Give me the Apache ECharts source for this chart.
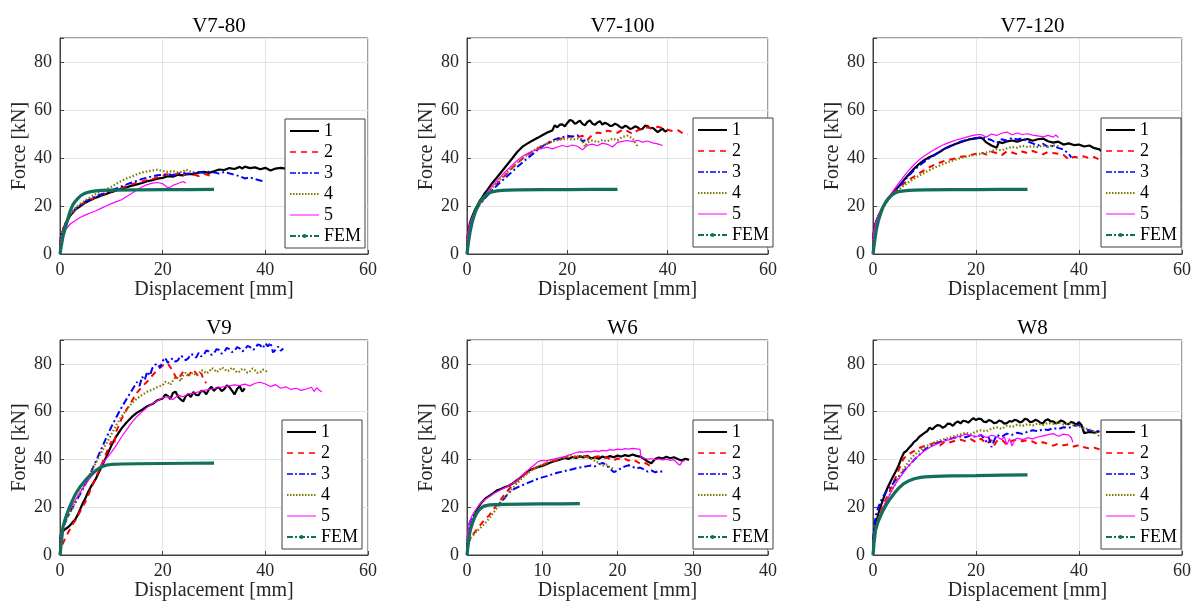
<!DOCTYPE html>
<html><head><meta charset="utf-8">
<script src="https://cdn.jsdelivr.net/npm/echarts@6/dist/echarts.min.js"></script>
<style>html,body{margin:0;padding:0;background:#fff}#c{width:1200px;height:606px}</style>
</head><body><div id="c"></div>
<script>
// ---------- chart data ----------
const titles = ['V7-80', 'V7-100', 'V7-120', 'V9', 'W6', 'W8'];
const seriesNames = ['1', '2', '3', '4', '5', 'FEM'];
const xMaxes = [60, 60, 60, 60, 40, 60];
const xTickSteps = [20, 20, 20, 20, 10, 20];
const yTicks = [0, 20, 40, 60, 80];
const yMax = 90;

// V7-80
const v780_1 = [[0,0],[0.1,6],[0.3,8],[0.6,10],[1,12],[1.5,14],[2,16],[3,18.5],[4,20],[5,21.5],[6,22.5],[7,23.5],[8,24.3],[9,25],[10,25.8],[11,26.5],[12,27.2],[13,27.8],[14,28.5],[15,29],[16,29.6],[17,30.3],[18,30.8],[19,31.4],[20,31.7],[21,32.4],[22,32.2],[23,33],[24,32.8],[25,33.4],[26,33.2],[27,33.9],[28,34.2],[29,33.8],[30,34.5],[31,35.2],[32,35],[33,35.8],[34,35.4],[35,36.3],[35.5,35.6],[36,36.4],[37,35.8],[38,36.1],[39,35.3],[40,35.9],[41,34.8],[42,35.6],[43,35.9],[44,35.6],[44.5,35.7]];
const v780_2 = [[0,0],[0.1,6],[0.3,8],[0.6,10],[1,12.5],[1.5,14.5],[2,16],[3,18.5],[4,20.5],[5,21.8],[6,22.8],[7,23.7],[8,24.6],[9,25.4],[10,26],[11,26.8],[12,27.6],[13,28.3],[14,29],[15,29.8],[16,30.2],[17,30.9],[18,31.2],[19,32],[20,32.6],[21,33.2],[21.5,32.4],[22,33],[23,33.5],[24,32.8],[25,33.6],[26,33.1],[27,32.5],[28,33.4],[29,32.8],[30,32.2]];
const v780_3 = [[0,0],[0.1,6],[0.3,8.5],[0.6,10.5],[1,12.5],[1.5,14.5],[2,16.2],[3,18.8],[4,20.5],[5,22],[6,23],[7,24],[8,24.8],[9,25.5],[10,26.4],[11,27.3],[12,28.2],[13,29],[14,29.8],[15,30.5],[16,31.3],[17,31.8],[18,32.4],[19,32.8],[20,33],[21,33.4],[22,32.7],[23,33.5],[24,33.8],[25,33.2],[26,33.9],[27,34.2],[28,33.8],[29,34.3],[30,34],[31,33.5],[32,34.2],[33,33.6],[34,33],[35,32.4],[36,31.5],[37,31.9],[38,31.2],[39,30.6],[40,30.2]];
const v780_4 = [[0,0],[0.1,6],[0.3,8.5],[0.6,10.5],[1,12.5],[1.5,14.5],[2,16.5],[3,19],[4,21],[5,22.5],[6,23.8],[7,25],[8,26],[9,27],[10,28],[11,29.3],[12,30.5],[13,31.5],[14,32.3],[15,33.2],[16,34],[17,34.4],[18,34.8],[19,35.1],[20,34.6],[21,34.2],[22,34.5],[23,34],[24,34.3],[24.5,35.2],[25,34.6],[26,34]];
const v780_5 = [[0,0],[0.1,5],[0.3,7],[0.6,8.8],[1,10],[2,12.5],[3,14],[4,15.3],[5,16.3],[6,17.2],[7,18],[8,19],[9,20],[10,21],[11,21.8],[12,22.6],[13,24],[14,25.3],[15,26.8],[16,28],[17,28.9],[18,29.5],[19,29.8],[20,29.3],[21,27.6],[21.5,27.8],[22,28.6],[23,29.4],[24,30.2],[24.5,29.5]];
const v780_fem = [[0,0],[0.3,4],[0.6,7.5],[1,10.5],[1.5,14.5],[2,18],[2.5,20.5],[3,22],[3.5,23.2],[4,24.2],[4.5,24.9],[5,25.4],[6,26],[7,26.3],[8,26.5],[10,26.6],[15,26.7],[20,26.8],[25,26.8],[30,26.9]];

// V7-100
const v7100_1 = [[0,0],[0.1,7],[0.3,10],[0.6,13],[1,15.5],[1.5,18],[2,20],[2.5,22],[3,23.5],[3.5,25.2],[4,26.5],[5,29.5],[6,32],[7,34.6],[8,37.2],[9,39.8],[10,42.5],[11,44.6],[12,46],[13,47.2],[14,48.3],[15,49.5],[16,50.6],[17,51.5],[17.5,53.6],[18,52.8],[18.5,53.9],[19,54],[19.5,53.2],[20,54.6],[20.5,55.8],[21,55.5],[21.5,54.2],[22,54.8],[22.5,55.6],[23,54.2],[23.5,53.6],[24,55],[24.5,55.7],[25,54.3],[25.5,53.8],[26,54.8],[26.5,55.3],[27,53.9],[27.5,54.7],[28,54.2],[28.5,53.4],[29,53.5],[29.5,54.3],[30,53.8],[30.5,52.9],[31,52.5],[31.5,53.4],[32,53],[32.5,52.1],[33,52.4],[33.5,53.2],[34,52.8],[34.5,51.9],[35,52.2],[35.5,53.5],[36,53.3],[36.5,52.4],[37,52.6],[37.5,51.7],[38,50.8],[38.5,51.5],[39,52.2],[39.5,51],[40,51.6]];
const v7100_2 = [[0,0],[0.1,6],[0.3,9],[0.6,12],[1,14.5],[1.5,17],[2,19],[3,22],[4,24.5],[5,27],[6,29.3],[7,31.5],[8,33.6],[9,35.8],[10,37.8],[11,39.6],[12,41.2],[13,42.6],[14,43.9],[15,45],[16,46],[17,46.9],[18,47.6],[19,48.2],[20,48.7],[21,49],[22,48.6],[23,49.3],[24,47.5],[25,49.8],[26,50.6],[27,50.2],[28,51.4],[29,51],[30,50.5],[31,51.8],[32,51.2],[33,50],[34,51.5],[35,52.3],[36,52.8],[37,52.1],[38,53],[39,52.4],[40,51.8],[41,51.2],[42,51.6],[43,50.3],[44,49.8]];
const v7100_3 = [[0,0],[0.1,6],[0.3,9],[0.6,12],[1,14.5],[1.5,17],[2,19],[3,21.8],[4,24.2],[5,26.5],[6,28.6],[7,30.5],[8,32.4],[9,34.3],[10,36.2],[11,38],[12,39.8],[13,41.5],[14,43.2],[15,44.8],[16,46.2],[17,47.3],[18,48.1],[19,48.6],[20,49.3],[21,48.9],[22,49.5],[22.5,48.5],[23,47],[23.3,46.2],[23.6,47.4]];
const v7100_4 = [[0,0],[0.1,6],[0.3,9],[0.6,12],[1,14.5],[1.5,17],[2,19.2],[3,22.3],[4,25],[5,27.4],[6,29.7],[7,31.9],[8,34],[9,36],[10,37.9],[11,39.7],[12,41.3],[13,42.8],[14,44.1],[15,45.2],[16,46.1],[17,46.9],[18,47.4],[19,47.8],[20,48.2],[21,47.6],[22,48.1],[23,47.2],[23.5,44.8],[24,46.5],[25,47.3],[26,46.6],[27,47.5],[28,47],[29,48.1],[30,47.4],[31,48.8],[32,49.3],[33,48.2],[33.5,46.5],[34,44.8]];
const v7100_5 = [[0,0],[0.1,7],[0.3,10],[0.6,12.5],[1,15],[1.5,17.5],[2,19.5],[3,22.8],[4,25.6],[5,28.2],[6,30.6],[7,32.9],[8,35],[9,37],[10,39],[11,40.6],[12,41.9],[13,42.8],[14,43.5],[15,44],[16,44.5],[17,43.8],[18,44.6],[19,45.2],[20,44.7],[21,45.4],[22,44.9],[23,43.4],[24,45.3],[25,45.8],[26,45.1],[27,46.2],[28,45.7],[29,44.6],[30,46.5],[31,46.9],[32,47.3],[33,46.8],[34,47.4],[35,46.6],[36,47.1],[37,46.3],[38,45.9],[39,45.2]];
const v7100_fem = [[0,0],[0.3,5],[0.6,9],[1,13],[1.5,16.5],[2,19.3],[2.5,21.3],[3,22.8],[3.5,24],[4,24.9],[4.5,25.5],[5,25.9],[6,26.3],[7,26.5],[8,26.6],[10,26.7],[15,26.8],[20,26.8],[25,26.9],[30,26.9]];

// V7-120
const v7120_1 = [[0,0],[0.1,8],[0.3,11],[0.6,13.5],[1,15.5],[1.5,17.8],[2,19.8],[3,23],[4,25.8],[5,28.2],[6,30.8],[7,33.2],[8,35.6],[9,37.6],[10,39.2],[11,40.4],[12,41.3],[13,42.6],[14,44],[15,44.9],[16,45.8],[17,46.6],[18,47.3],[19,47.9],[20,48.2],[21,48.5],[21.5,47.6],[22,46.5],[23,45.2],[24,44.3],[24.5,46.8],[25,46.2],[26,46.9],[27,47.3],[28,46.8],[29,47.5],[30,47.9],[31,47.2],[32,47.8],[33,48.1],[34,47],[35,46.4],[36,46.8],[37,45.6],[38,46.1],[39,45.4],[40,45.6],[41,44.8],[42,45.2],[43,44.1],[44,43.6],[44.3,42.8]];
const v7120_2 = [[0,0],[0.1,7],[0.3,10],[0.6,13],[1,15.5],[1.5,18],[2,20],[3,23],[4,25.5],[5,27.5],[6,29.4],[7,30.9],[8,32.3],[9,33.7],[10,35],[11,36.2],[12,37.3],[13,38.1],[14,38.9],[15,39.4],[16,39.8],[17,40.5],[18,40.7],[19,41.3],[20,41.8],[21,42.3],[22,41.4],[23,42.6],[24,42.1],[25,41.2],[26,42.8],[27,42.3],[28,41.6],[29,42.7],[30,42],[31,42.9],[32,42.2],[33,41.5],[34,42.6],[35,42.1],[36,41.8],[37,41.3],[38,39.4],[39,40.5],[40,40.1],[41,40.7],[42,39.9],[43,40.4],[44,39.2]];
const v7120_3 = [[0,0],[0.1,8],[0.3,11],[0.6,13.5],[1,15.5],[1.5,17.8],[2,19.8],[3,22.8],[4,25.5],[5,28],[6,30.4],[7,32.8],[8,35],[9,36.9],[10,38.5],[11,40],[12,41.4],[13,42.7],[14,43.9],[15,45],[16,45.9],[17,46.8],[18,47.5],[19,48],[20,48.3],[21,48.6],[22,48.1],[23,47.5],[24,46.2],[25,47.8],[26,47.2],[27,48.4],[28,47.7],[29,48.2],[30,46.9],[31,46.1],[32,45.2],[33,45.9],[34,44.6],[35,45],[36,44.2],[37,43.5],[38,41.8],[38.5,40.2]];
const v7120_4 = [[0,0],[0.1,7],[0.3,10],[0.6,13],[1,15.5],[1.5,18],[2,20],[3,22.8],[4,25],[5,26.9],[6,28.5],[7,30],[8,31.4],[9,32.7],[10,33.9],[11,35],[12,36],[13,36.9],[14,37.8],[15,38.6],[16,39.3],[17,40],[18,40.5],[19,41],[20,41.4],[21,41.8],[22,42.3],[23,42.9],[24,43.6],[25,43.2],[26,44],[27,44.6],[28,44.3],[29,45.1],[30,44.6],[31,44.9],[32,44.5],[33,45.2],[34,44.8],[35,45.3],[36,44.9]];
const v7120_5 = [[0,0],[0.1,8],[0.3,11],[0.6,13.5],[1,15.8],[1.5,18.2],[2,20.3],[3,23.6],[4,26.6],[5,29.5],[6,32.3],[7,35],[8,37.3],[9,39.3],[10,40.9],[11,42.3],[12,43.6],[13,44.8],[14,45.8],[15,46.6],[16,47.4],[17,48],[18,48.6],[19,49.2],[20,49.6],[21,49.8],[22,48.7],[23,50],[24,49.4],[25,50.3],[26,50.8],[27,49.7],[28,50.4],[29,49.8],[30,50.1],[31,49.5],[32,49.2],[33,48.8],[34,49.4],[35,48.7],[35.5,49.6],[36,48.5]];
const v7120_fem = [[0,0],[0.3,5],[0.6,9.5],[1,13.5],[1.5,17],[2,19.8],[2.5,21.8],[3,23.2],[3.5,24.3],[4,25.1],[4.5,25.6],[5,26],[6,26.3],[7,26.5],[8,26.6],[10,26.7],[15,26.8],[20,26.8],[25,26.9],[30,26.9]];

// V9
const v9_1 = [[0,0],[0.1,8],[0.3,9.5],[0.6,10.2],[1,10.8],[1.5,11.5],[2,12.5],[2.5,13.8],[3,15],[3.5,17],[4,19.5],[4.5,22],[5,24],[5.5,26.5],[6,28.5],[7,32],[8,36.5],[9,41],[10,45.8],[11,49.8],[12,53],[13,55.6],[14,57.8],[15,59.6],[16,60.8],[17,62.3],[18,63.2],[19,64.8],[20,65.5],[20.5,67.2],[21,66.6],[21.5,65.3],[22,67.8],[22.5,68.4],[23,66.2],[23.5,65.1],[24,64.3],[24.5,66.5],[25,67.4],[25.5,66.1],[26,68.2],[26.5,67],[27,66.9],[27.5,68.7],[28,68.6],[28.5,67.3],[29,69.3],[29.5,70.4],[30,68.7],[30.5,69.9],[31,70.1],[31.5,68.6],[32,69.4],[32.5,71],[33,70.3],[33.5,68.8],[34,67.2],[34.5,69.5],[35,70.6],[35.5,68.4],[36,69.8]];
const v9_2 = [[0,0],[0.3,3],[0.6,5],[1,7],[1.5,9],[2,11],[2.5,13],[3,14.5],[3.5,16.5],[4,18.5],[5,22.5],[6,27.5],[7,32.5],[8,37.5],[9,42.5],[10,47.5],[10.5,46],[11,52],[12,57],[13,61],[14,64.5],[15,68],[16,70.5],[17,72.6],[18,75.2],[19,77.5],[20,79.3],[21,80.2],[21.5,78.5],[22,77.2],[22.5,74.6],[23,73.4],[24,76.8],[25,75.2],[26,77.6],[27,74.5],[27.5,76.2],[28,73.1],[28.5,72]];
const v9_3 = [[0,0],[0.1,7],[0.3,9],[0.6,11],[1,13.5],[1.5,16],[2,18.2],[3,22],[4,25.8],[5,29.8],[6,34.5],[7,39.3],[8,44.2],[9,49],[10,53.6],[11,57.8],[12,61.8],[13,65.4],[14,68.9],[15,72.4],[15.5,70.8],[16,74.6],[16.5,73.2],[17,76.8],[17.5,75.1],[18,78.2],[18.5,79.6],[19,80.1],[19.5,78.4],[20,81.2],[20.5,82.6],[21,80.4],[21.5,81.8],[22,82.3],[22.5,80.9],[23,81.6],[23.5,83.4],[24,82.9],[24.5,81.5],[25,82.4],[25.5,84.1],[26,83.8],[26.5,82.6],[27,84.6],[27.5,83.1],[28,83.7],[28.5,85.6],[29,85.2],[29.5,83.8],[30,84.5],[30.5,86.2],[31,85.8],[31.5,84.3],[32,85.1],[32.5,86.7],[33,86.2],[33.5,84.9],[34,85.4],[34.5,87],[35,86.5],[35.5,85.2],[36,85.9],[36.5,87.5],[37,87.1],[37.5,85.8],[38,86.4],[38.5,88.1],[39,87.8],[39.5,86.5],[40,88.6],[40.5,87.3],[41,88.9],[41.5,84.8],[42,85.9],[42.5,87.2],[43,85.5],[43.5,86.4]];
const v9_4 = [[0,0],[0.1,7],[0.3,10],[0.6,12],[1,14],[1.5,16],[2,17.8],[2.5,19.8],[3,22],[3.5,24.5],[4,26.5],[5,30.5],[6,34.5],[7,38.7],[8,42.7],[9,46.5],[10,50.5],[11,54.5],[12,58],[13,61],[14,63.5],[15,65.5],[16,67],[17,68.4],[18,69.2],[19,70.3],[20,71.1],[20.5,72.5],[21,72.3],[21.5,71.2],[22,73],[22.5,74.4],[23,74],[23.5,72.8],[24,75.2],[24.5,76.3],[25,74.6],[25.5,75.9],[26,76.3],[26.5,75.1],[27,75.8],[27.5,77.4],[28,77.1],[28.5,76],[29,76.6],[29.5,78.2],[30,77.8],[30.5,76.5],[31,77.2],[31.5,78.5],[32,78],[32.5,76.9],[33,77.3],[33.5,78.4],[34,77.6],[34.5,76.4],[35,76.8],[35.5,78],[36,77.5],[36.5,76.3],[37,76.9],[37.5,78.1],[38,77.3],[38.5,76.2],[39,76.4],[39.5,77.6],[40,77.2],[40.5,76.5]];
const v9_5 = [[0,0],[0.1,7],[0.3,10],[0.6,12.5],[1,15],[1.5,17.5],[2,19.5],[3,23],[4,26.5],[5,29.8],[6,32.5],[7,35],[8,37.5],[9,40.2],[10,43],[11,46],[12,49.5],[13,52.5],[14,55.5],[15,58],[16,60],[17,61.8],[18,63.4],[19,64.6],[20,65.8],[21,66.3],[22,65.1],[23,66.9],[24,66.2],[25,67.5],[26,67.8],[27,68.3],[28,68.9],[29,69.2],[30,69.7],[31,70],[32,70.5],[33,70.8],[34,71.2],[35,70.9],[36,71.5],[37,70.8],[38,71.9],[39,72.3],[40,71.6],[41,70.5],[42,71.3],[43,69.8],[44,70.4],[45,69.3],[46,69.8],[47,68.9],[48,69.5],[49,70.2],[49.5,68.5],[50,70],[50.5,69],[51,68.3]];
const v9_fem = [[0,0],[0.3,6],[0.6,12],[1,15],[1.5,18],[2,20.8],[2.5,23.2],[3,25.4],[3.5,27.2],[4,28.8],[5,31.4],[6,33.6],[7,35.4],[8,36.8],[9,37.6],[10,37.9],[12,38.1],[15,38.2],[20,38.3],[25,38.4],[30,38.5]];

// W6
const w6_1 = [[0,0],[0.1,6],[0.3,9.5],[0.5,12],[0.8,14.5],[1,16.5],[1.3,18.8],[1.6,20.5],[2,22.2],[2.5,23.8],[3,24.8],[3.5,25.9],[4,27.1],[4.5,27.6],[5,28.4],[5.5,28.9],[6,29.8],[6.5,31],[7,32.2],[7.5,33.6],[8,34.9],[8.5,35.8],[9,36.3],[9.5,36.9],[10,37.3],[10.5,37.9],[11,38.6],[11.5,39.2],[12,39.6],[12.5,40.1],[13,40.6],[13.5,40.2],[14,41],[14.5,40.6],[15,41.3],[15.5,40.8],[16,41.5],[16.5,40.4],[17,40.9],[17.5,40.3],[18,41.2],[18.5,40.7],[19,41.4],[19.5,40.9],[20,41.6],[20.5,41.2],[21,41.8],[21.5,41.4],[22,42.1],[22.5,41.5],[23,41.2],[23.5,40.3],[24,39.1],[24.5,38.4],[25,40.2],[25.5,40.8],[26,40.4],[26.5,41.1],[27,40.5],[27.5,40.9],[28,40.2],[28.5,39.6],[29,40.3],[29.5,39.8]];
const w6_2 = [[0,0],[0.1,4],[0.3,6],[0.6,7.5],[1,9.5],[1.5,11.5],[2,13.5],[2.5,15.2],[3,16.8],[3.5,19],[4,21.2],[4.5,23.2],[5,25.5],[5.5,27.3],[6,29],[6.5,30.6],[7,32],[7.5,33.3],[8,34.5],[8.5,35.4],[9,36.4],[9.5,37.1],[10,37.6],[10.5,38.3],[11,38.9],[11.5,39.4],[12,39.8],[12.5,40.5],[13,40.9],[13.5,41.3],[14,40.8],[14.5,41.2],[15,40.6],[15.5,41.4],[16,41.1],[16.5,41.6],[17,41],[17.5,41.3],[18,40.5],[18.5,41],[19,40.1],[19.5,39.6],[20,40.4],[20.5,39.8],[21,40.2],[21.5,39.5],[22,40.1],[22.5,39.2],[23,38.3],[23.5,38.8],[24,37.9],[24.5,37.1]];
const w6_3 = [[0,0],[0.1,8],[0.3,13],[0.6,15.5],[1,17],[1.5,18.8],[2,19.8],[2.5,20.4],[3,20.8],[3.5,21.1],[4,21.5],[4.5,22],[5,23.8],[5.5,26],[6,27.2],[6.5,28],[7,28.8],[7.5,29.4],[8,30.1],[8.5,30.7],[9,31.4],[9.5,32],[10,32.5],[10.5,32.9],[11,33.5],[11.5,33.9],[12,34.4],[12.5,34.8],[13,35.2],[13.5,35.5],[14,35.9],[14.5,36.3],[15,36.6],[15.5,36.9],[16,37.2],[16.5,37.5],[17,37.1],[17.5,37.9],[18,38.6],[18.5,37.8],[19,36.1],[19.5,34.7],[20,35.3],[20.5,36.4],[21,37.1],[21.5,37.6],[22,36.9],[22.5,36.2],[23,36.6],[23.5,35.8],[24,34.9],[24.5,35.4],[25,34.6],[25.5,35.2],[26,34.8]];
const w6_4 = [[0,0],[0.1,4],[0.3,6],[0.6,7.5],[1,9],[1.5,10.5],[2,12],[2.5,13.6],[3,15.5],[3.5,17.6],[4,19.8],[4.5,22],[5,24],[5.5,25.9],[6,27.7],[6.5,29.5],[7,31.2],[7.5,32.7],[8,34],[8.5,35.2],[9,36.3],[9.5,37.1],[10,37.8],[10.5,38.6],[11,39.2],[11.5,39.7],[12,40.2],[12.5,40.5],[13,40.9],[13.5,41.2],[14,41.5],[14.5,41.1],[15,41.6],[15.5,41.2],[16,40.8],[16.5,40.2],[17,39.4],[17.5,38.5],[18,37.3],[18.5,37.9],[19,36.6],[19.5,36.2]];
const w6_5 = [[0,0],[0.1,9],[0.3,13],[0.6,16],[1,18.2],[1.5,20.4],[2,22.3],[2.5,23.4],[3,24.6],[3.5,25.6],[4,26.5],[4.5,27.3],[5,28.1],[5.5,28.9],[6,29.8],[6.5,30.9],[7,32.4],[7.5,33.9],[8,35.2],[8.5,36.6],[9,37.9],[9.5,39.2],[10,39.6],[10.5,39.4],[11,39.8],[11.5,40.1],[12,40.5],[12.5,40.9],[13,41.2],[13.5,41.8],[14,42.3],[14.5,42.9],[15,43.2],[15.5,43.1],[16,43.4],[16.5,43.2],[17,43.6],[17.5,43.3],[18,43.8],[18.5,43.6],[19,44.1],[19.5,43.9],[20,44.3],[20.5,44.1],[21,44.5],[21.5,44.3],[22,44.6],[22.5,44.4],[23,44.2],[23.1,40.8],[23.5,40.5],[24,40.1],[24.5,40.3],[25,39.9],[25.5,40.2],[26,39.8],[26.5,40.1],[27,39.6],[27.5,39.9],[28,38.2],[28.3,37.6],[28.6,39.2],[29,39.5]];
const w6_fem = [[0,0],[0.1,3],[0.2,5.5],[0.35,9],[0.5,11],[0.75,13.5],[1,15.6],[1.25,17.2],[1.5,18.4],[1.75,19.3],[2,20],[2.25,20.5],[2.5,20.8],[3,21],[4,21.1],[5,21.2],[7.5,21.3],[10,21.4],[12.5,21.4],[15,21.5]];

// W8
const w8_1 = [[0,0],[0.1,7],[0.3,10],[0.6,13.5],[1,17],[1.5,20.5],[2,23.5],[2.5,26.5],[3,29],[3.5,31.2],[4,33.3],[4.5,35.4],[5,37.6],[5.5,40.5],[6,42.8],[6.5,43.6],[7,44.9],[7.5,46],[8,47.4],[8.5,48.2],[9,49.5],[9.5,50.3],[10,51.1],[10.5,51.8],[11,53.3],[11.5,52.6],[12,53.6],[12.5,54.4],[13,54.2],[13.5,53.3],[14,53.8],[14.5,55],[15,54.9],[15.5,54.1],[16,55.3],[16.5,55.9],[17,55.1],[17.5,56.2],[18,56],[18.5,55.4],[19,56.4],[19.5,57.3],[20,56.5],[20.5,57.1],[21,56.9],[21.5,55.8],[22,55.6],[22.5,56.5],[23,56.1],[23.5,55.2],[24,55.4],[24.5,56.3],[25,55.9],[25.5,55],[26,55.2],[26.5,56.1],[27,55.8],[27.5,56.6],[28,56.3],[28.5,55.5],[29,55.9],[29.5,57],[30,56.7],[30.5,55.6],[31,55.8],[31.5,56.6],[32,56.2],[32.5,55.3],[33,55.1],[33.5,56.4],[34,56.8],[34.5,55.9],[35,56],[35.5,55.1],[36,55.5],[36.5,56.3],[37,55.9],[37.5,54.9],[38,54.8],[38.5,55.7],[39,55.3],[39.5,54.6],[40,55.6],[40.5,54.3],[41,51],[42,51.5],[43,51.2],[44,51.8]];
const w8_2 = [[0,0],[0.1,6],[0.3,9],[0.6,12],[1,15],[1.5,18.2],[2,21],[2.5,23.3],[3,25.6],[3.5,28],[4,30.5],[4.5,33],[5,35.6],[5.5,38.5],[6,40.5],[6.5,41.4],[7,42.3],[8,43.6],[9,44.8],[10,45.7],[11,46.3],[12,46.9],[13,45.8],[14,47.5],[15,47.2],[16,47.9],[17,48.3],[18,47.6],[19,48.5],[20,47.2],[21,48.7],[22,46.5],[23,48.1],[23.5,45.8],[24,47.6],[25,48.3],[26,46.2],[27,47.8],[28,48.4],[29,47.6],[30,48.1],[31,47.5],[32,46.4],[33,47.2],[34,46.5],[35,45.8],[36,46.6],[37,45.9],[38,46.3],[39,45.4],[40,46],[41,45.1],[42,44.6],[43,44.9],[44,44.2]];
const w8_3 = [[0,0],[0.1,9],[0.3,13],[0.6,17],[1,19.8],[1.5,22.5],[2,24.6],[2.5,26.3],[3,27.7],[3.5,29],[4,30.3],[4.5,31.6],[5,32.8],[5.5,34],[6,35.2],[6.5,36.4],[7,37.5],[8,39.8],[9,42],[10,44],[11,45.4],[12,46.5],[13,47.3],[14,48.1],[15,48.6],[16,49.2],[17,49.6],[18,49.3],[19,50.1],[20,49.4],[21,50.3],[22,47.5],[22.5,49.2],[23,45.2],[23.5,47.8],[24,50.2],[25,49.6],[26,50.8],[27,50.3],[28,51.2],[29,50.7],[30,51.6],[31,52.2],[32,51.8],[33,52.6],[34,52.3],[35,53.1],[36,52.7],[37,53.5],[38,53.2],[39,54.1],[40,54.4],[41,52.8],[42,52.2],[43,51.6],[44,52]];
const w8_4 = [[0,0],[0.1,6],[0.3,9],[0.6,12],[1,14.8],[1.5,17.6],[2,20],[2.5,22],[3,24.2],[3.5,26.4],[4,28.6],[4.5,30.8],[5,32.6],[5.5,34.4],[6,36.1],[6.5,37.8],[7,39.4],[8,41.8],[9,43.6],[10,45.1],[11,46.3],[12,47.2],[13,48],[14,48.6],[15,49.3],[16,49.9],[17,50.5],[18,51.2],[19,50.6],[20,51.7],[21,52.2],[22,51.8],[23,52.9],[24,53.4],[25,52.8],[26,54.1],[27,53.6],[28,54.5],[29,54],[30,54.8],[31,54.2],[32,55],[33,54.4],[34,55.3],[35,54.9],[36,55.6],[37,54.7],[38,55.1],[39,54.2],[40,53.8],[41,53.1],[42,52.5],[43,51.7],[44,49.6]];
const w8_5 = [[0,0],[0.1,6],[0.3,9],[0.6,12],[1,14.8],[1.5,17.7],[2,20.2],[2.5,22.2],[3,24.3],[3.5,26.4],[4,28.4],[4.5,30.2],[5,31.8],[5.5,33.2],[6,34.7],[6.5,36.2],[7,37.5],[8,39.8],[9,41.9],[10,43.6],[11,45],[12,46.1],[13,47],[14,47.8],[15,48.4],[16,49.2],[17,49.8],[18,50.6],[19,50.1],[20,49.5],[21,50.3],[22,49.2],[23,50.1],[24,49.6],[25,48.3],[25.5,49.5],[26,46.2],[26.5,48.7],[27,45.6],[27.5,48.2],[28,48.9],[29,48.3],[30,49.1],[31,48.6],[32,49.4],[33,49.9],[34,50.4],[35,50.8],[36,49.7],[37,50.6],[38,50.2],[38.5,49.2],[38.8,47.2]];
const w8_fem = [[0,0],[0.2,5],[0.5,10.5],[1,14],[1.5,16.5],[2,18.8],[2.5,20.7],[3,22.5],[3.5,24],[4,25.4],[4.5,26.8],[5,28],[5.5,29],[6,29.9],[7,31.1],[8,31.9],[9,32.4],[10,32.7],[12,32.9],[15,33.1],[20,33.2],[25,33.4],[30,33.5]];

const panelData = [
  [v780_1, v780_2, v780_3, v780_4, v780_5, v780_fem],
  [v7100_1, v7100_2, v7100_3, v7100_4, v7100_5, v7100_fem],
  [v7120_1, v7120_2, v7120_3, v7120_4, v7120_5, v7120_fem],
  [v9_1, v9_2, v9_3, v9_4, v9_5, v9_fem],
  [w6_1, w6_2, w6_3, w6_4, w6_5, w6_fem],
  [w8_1, w8_2, w8_3, w8_4, w8_5, w8_fem]
];

// ---------- layout & style ----------
const FONT = 'Liberation Serif';
const gridBoxes = [
  {left: 60, top: 38, width: 308, height: 216},
  {left: 467, top: 38, width: 301, height: 216},
  {left: 873, top: 38, width: 309, height: 216},
  {left: 60, top: 340, width: 308, height: 215},
  {left: 467, top: 340, width: 301, height: 215},
  {left: 873, top: 340, width: 309, height: 215}
];
const legendPos = [
  {left: 285, top: 119}, {left: 693, top: 118}, {left: 1101, top: 118},
  {left: 282, top: 420}, {left: 693, top: 420}, {left: 1101, top: 420}
];
const lineStyles = [
  {color: '#000000', width: 2.2, type: 'solid'},
  {color: '#ff0000', width: 2, type: [6, 5]},
  {color: '#0000ff', width: 2, type: [7, 3, 2, 3]},
  {color: '#807a00', width: 2.2, type: [1.5, 2]},
  {color: '#ff00ff', width: 1.2, type: 'solid'},
  {color: '#11705b', width: 3.2, type: 'solid'}
];
const legendLineStyles = [
  {color: '#000000', width: 2, type: 'solid'},
  {color: '#ff0000', width: 1.6, type: [6, 5]},
  {color: '#0000ff', width: 1.6, type: [6, 2, 2, 2]},
  {color: '#807a00', width: 1.8, type: [1.5, 1.5]},
  {color: '#ff00ff', width: 1, type: 'solid'},
  {color: '#11705b', width: 2, type: [6, 2, 2, 2]}
];
const AX = '#404040';

const grids = [], xAxes = [], yAxes = [], series = [], titleArr = [], legends = [];
gridBoxes.forEach((g, i) => {
  grids.push(Object.assign({show: true, borderColor: AX, borderWidth: 1, backgroundColor: '#fff', containLabel: false}, g));
  titleArr.push({
    text: titles[i], left: g.left + g.width / 2, top: g.top - 27, textAlign: 'center',
    textStyle: {fontFamily: FONT, fontSize: 21, fontWeight: 'normal', color: '#000'}
  });
  xAxes.push({
    type: 'value', gridIndex: i, min: 0, max: xMaxes[i], interval: xTickSteps[i],
    name: 'Displacement [mm]', nameLocation: 'middle', nameGap: 25,
    nameTextStyle: {fontFamily: FONT, fontSize: 20, color: '#262626'},
    axisLine: {show: true, onZero: false, lineStyle: {color: AX}},
    axisTick: {show: true, inside: true, length: 4, lineStyle: {color: AX}},
    axisLabel: {fontFamily: FONT, fontSize: 18, color: '#262626', margin: 7},
    splitLine: {show: true, lineStyle: {color: '#e4e4e4', width: 1}}
  });
  yAxes.push({
    type: 'value', gridIndex: i, min: 0, max: yMax, interval: 20,
    name: 'Force [kN]', nameLocation: 'middle', nameGap: 28,
    nameTextStyle: {fontFamily: FONT, fontSize: 20, color: '#262626'},
    axisLine: {show: true, onZero: false, lineStyle: {color: AX}},
    axisTick: {show: true, inside: true, length: 4, lineStyle: {color: AX}},
    axisLabel: {fontFamily: FONT, fontSize: 18, color: '#262626', margin: 8,
      formatter: v => yTicks.includes(v) ? String(v) : ''},
    splitLine: {show: true, lineStyle: {color: '#e4e4e4', width: 1}}
  });
  panelData[i].forEach((d, k) => {
    series.push({
      type: 'line', name: seriesNames[k], xAxisIndex: i, yAxisIndex: i,
      data: d, symbol: 'none', smooth: false, clip: true,
      lineStyle: lineStyles[k], itemStyle: {color: lineStyles[k].color},
      emphasis: {disabled: true}, z: 2 + k
    });
  });
  legends.push({
    orient: 'vertical', left: legendPos[i].left, top: legendPos[i].top,
    selectedMode: false, itemWidth: 29, itemHeight: 5, itemGap: 3,
    padding: [3, 4, 3, 4], backgroundColor: '#fff', borderColor: AX, borderWidth: 1,
    textStyle: {fontFamily: FONT, fontSize: 18, color: '#000'},
    data: seriesNames.map((n, k) => ({
      name: n,
      lineStyle: legendLineStyles[k],
      itemStyle: k === 5 ? {color: legendLineStyles[k].color, opacity: 1} : {opacity: 0}
    }))
  });
});

const chart = echarts.init(document.getElementById('c'), null, {renderer: 'canvas'});
chart.setOption({
  backgroundColor: '#fff', animation: false,
  title: titleArr, grid: grids, xAxis: xAxes, yAxis: yAxes, legend: legends, series: series
});
</script>
</body></html>
